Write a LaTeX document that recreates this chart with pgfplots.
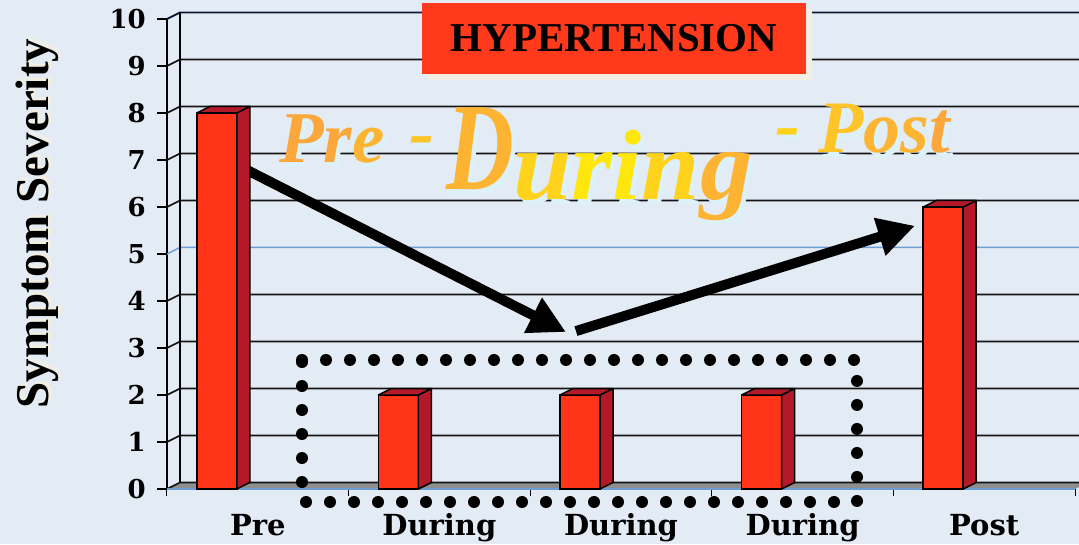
\documentclass[border=0pt]{standalone}
\usepackage{pgfplots}
\pgfplotsset{compat=1.18}
\usepackage{fontspec}
\setmainfont{DejaVu Serif}
\newfontfamily\tnr{Liberation Serif}
\usetikzlibrary{arrows.meta}
\definecolor{bg}{HTML}{E3EBF5}
\definecolor{barfront}{HTML}{FF3419}
\definecolor{barside}{HTML}{B4192A}
\definecolor{titlered}{HTML}{FF3A1C}
\definecolor{floorgray}{HTML}{8E8E8E}
\definecolor{gridblue}{HTML}{6D9ED3}
\definecolor{gridc}{HTML}{141414}
\definecolor{navy}{HTML}{0B1838}
\definecolor{cream}{HTML}{F2EFE2}
\definecolor{wshadow}{HTML}{DCF1F8}
\definecolor{oA}{HTML}{FBA73C}
\definecolor{oB}{HTML}{FDB432}
\definecolor{oC}{HTML}{FFC428}
\definecolor{yA}{HTML}{FFD21C}
\definecolor{yB}{HTML}{FFE60C}
\begin{document}
\begin{tikzpicture}[x=1pt,y=1pt]
\path[use as bounding box] (0,0) rectangle (1079,544);
\clip (0,0) rectangle (1079,544);
\fill[bg] (0,0) rectangle (1079,544);
\begin{axis}[
  at={(167pt,55pt)}, anchor=south west,
  scale only axis, width=908pt, height=470pt,
  xmin=-0.5, xmax=4.5, ymin=0, ymax=10,
  enlargelimits=false, clip=false,
  axis x line=bottom, axis y line=left,
  axis line style={-},
  x axis line style={draw=none},
  y axis line style={black, line width=1.6pt},
  xtick={0,1,2,3,4},
  xticklabels={Pre,During,During,During,Post},
  minor xtick={-0.5,0.5,1.5,2.5,3.5,4.5},
  major x tick style={draw=none},
  minor x tick style={black, line width=1pt},
  minor tick length=7pt,
  ytick={0,1,2,3,4,5,6,7,8,9,10},
  yticklabels={0,1,2,3,4,5,6,7,8,9,10},
  major tick length=10pt, tick align=outside,
  y tick style={black, line width=1.6pt},
  xticklabel style={anchor=base, inner sep=0pt, yshift=-36pt, font=\bfseries\fontsize{29}{29}\selectfont},
  yticklabel style={anchor=east, inner sep=0pt, xshift=-11pt, font=\bfseries\fontsize{26}{26}\selectfont},
  every axis y label/.style={at={(axis description cs:-0.1410,0.5649)}, rotate=90, anchor=center, inner sep=0pt},
  ylabel={\rlap{\kern3pt\raisebox{-3pt}{\textcolor{cream}{Symptom Severity}}}Symptom Severity},
  ylabel style={font=\tnr\bfseries\fontsize{47}{47}\selectfont},
]
% back wall grid lines with left-wall diagonals
\pgfplotsinvokeforeach{1,2,3,4,6,7,8,9}{
  \draw[gridc, line width=1.6pt] (axis cs:-0.5,#1) -- ++(13pt,6.5pt) -- ++(1000pt,0pt);
}
\draw[gridblue, line width=1.5pt] (axis cs:-0.5,5) -- ++(13pt,6.5pt) -- ++(1000pt,0pt);
\draw[navy, line width=1.8pt] (axis cs:-0.5,10) -- ++(13pt,6.5pt) -- ++(1000pt,0pt);
% back vertical edge of left wall
\draw[black, line width=1.6pt] (axis cs:-0.5,0) ++(13pt,6.5pt) -- ++(0pt,470pt);
% floor
\fill[floorgray] (axis cs:-0.5,0) -- ++(13pt,6.5pt) -- ++(908pt,0pt) -- ++(-13pt,-6.5pt) -- cycle;
\draw[gridc, line width=1.6pt] (axis cs:-0.5,0) -- ++(13pt,6.5pt) -- ++(1000pt,0pt);
\draw[gridblue, line width=1.5pt] (axis cs:-0.5,0) -- (axis cs:4.5,0);
% bars: front faces
\addplot[ybar, bar width=40pt, bar shift=-41pt, fill=barfront, draw=black, line width=1.5pt]
  coordinates {(0,8) (1,2) (2,2) (3,2) (4,6)};
% bars: side and top faces
\addplot[scatter, only marks, mark=*, mark size=0pt,
  visualization depends on={rawy \as \ry},
  scatter/@pre marker code/.code={
    \filldraw[fill=barside, draw=black, line width=1.5pt, line join=round]
      (-21pt,0pt) -- (-8pt,6.5pt) -- (-8pt,{6.5pt-\ry*47pt}) -- (-21pt,{-\ry*47pt}) -- cycle;
    \filldraw[fill=barside, draw=black, line width=1.5pt, line join=round]
      (-61pt,0pt) -- (-48pt,6.5pt) -- (-8pt,6.5pt) -- (-21pt,0pt) -- cycle;
  },
  scatter/@post marker code/.code={}]
  coordinates {(0,8) (1,2) (2,2) (3,2) (4,6)};
% dotted frame
\draw[black, line width=12pt, line cap=round, dash pattern=on 0pt off 24pt]
  (axis cs:0.2434,2.745) -- (axis cs:3.2996,2.745) -- (axis cs:3.2996,-0.2766) -- (axis cs:0.2434,-0.2766) -- cycle;
% arrows
\draw[black, line width=10pt, -{Triangle[length=37pt,width=37pt]}] (axis cs:-0.0815,6.83) -- (axis cs:1.697,3.34);
\draw[black, line width=10pt, -{Triangle[length=37pt,width=37pt]}] (axis cs:1.752,3.36) -- (axis cs:3.619,5.60);
\end{axis}
% title box
\fill[cream] (428,464) rectangle (812,535);
\fill[titlered] (422,470) rectangle (806,541);
\node[font=\tnr\bfseries\fontsize{41}{41}\selectfont, inner sep=0pt] at (614,505.5) {HYPERTENSION};
% word art: shadows
\begin{scope}[text=wshadow]
\node[anchor=base west, inner sep=0pt, font=\tnr\bfseries\itshape\fontsize{73}{73}\selectfont] at (283,376) {Pre};
\node[inner sep=0pt, font=\tnr\bfseries\itshape\fontsize{75}{75}\selectfont] at (426,392) {-};
\node[anchor=base west, inner sep=0pt, xscale=0.75, font=\tnr\bfseries\itshape\fontsize{125}{125}\selectfont] at (450,349) {D};
\node[anchor=base west, inner sep=0pt, xscale=1.05, font=\tnr\bfseries\itshape\fontsize{100}{100}\selectfont] at (517,339) {uring};
\node[inner sep=0pt, font=\tnr\bfseries\itshape\fontsize{75}{75}\selectfont] at (792,400) {-};
\node[anchor=base west, inner sep=0pt, font=\tnr\bfseries\itshape\fontsize{74}{74}\selectfont] at (822,386) {Post};
\end{scope}
% word art: text
\node[anchor=base west, inner sep=0pt, font=\tnr\bfseries\itshape\fontsize{73}{73}\selectfont] at (279,381) {\textcolor{oA}{P}\textcolor{oA}{r}\textcolor{oB}{e}};
\node[inner sep=0pt, font=\tnr\bfseries\itshape\fontsize{75}{75}\selectfont, text=oC] at (422,397) {-};
\node[anchor=base west, inner sep=0pt, xscale=0.75, font=\tnr\bfseries\itshape\fontsize{125}{125}\selectfont, text=oB] at (446,354) {D};
\node[anchor=base west, inner sep=0pt, xscale=1.05, font=\tnr\bfseries\itshape\fontsize{100}{100}\selectfont] at (513,344) {\textcolor{yA}{u}\textcolor{yB}{r}\textcolor{yB}{i}\textcolor{yA}{n}\textcolor{oB}{g}};
\node[inner sep=0pt, font=\tnr\bfseries\itshape\fontsize{75}{75}\selectfont, text=yA] at (788,405) {-};
\node[anchor=base west, inner sep=0pt, font=\tnr\bfseries\itshape\fontsize{74}{74}\selectfont] at (818,391) {\textcolor{oC}{P}\textcolor{oB}{o}\textcolor{oB}{s}\textcolor{oA}{t}};
\end{tikzpicture}
\end{document}
